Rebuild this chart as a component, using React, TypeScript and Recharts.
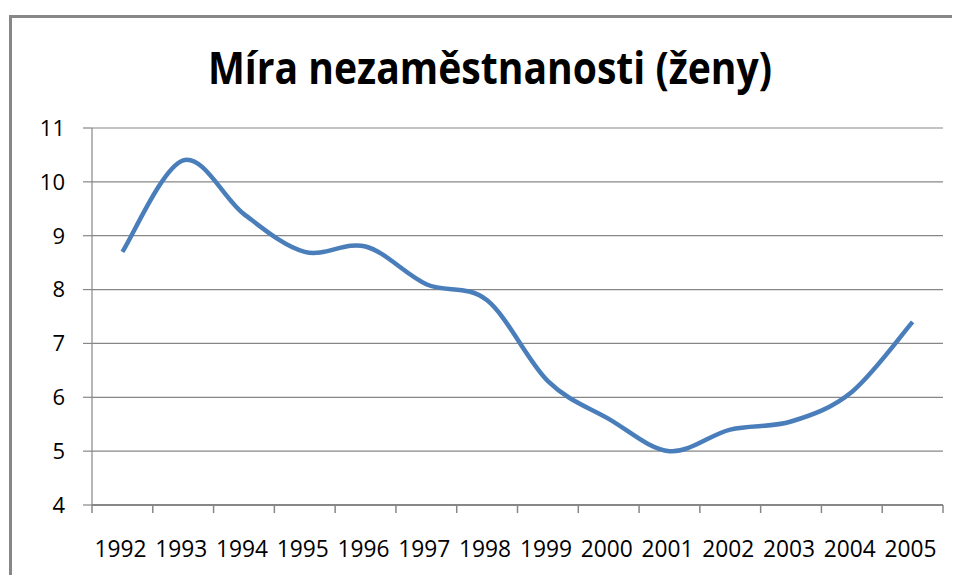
import React from 'react';
import { LineChart, Line, XAxis, YAxis, CartesianGrid } from 'recharts';

const years = ['1992', '1993', '1994', '1995', '1996', '1997', '1998', '1999', '2000', '2001', '2002', '2003', '2004', '2005'];
const rates = [8.7, 10.4, 9.4, 8.7, 8.8, 8.1, 7.8, 6.3, 5.6, 5.0, 5.4, 5.55, 6.1, 7.4];
const yTicks = [4, 5, 6, 7, 8, 9, 10, 11];

const data = years.map((year, i) => ({ x: i, year, rate: rates[i] }));

// boundaries between years get a tick mark, year centres get the label
const xTicks: number[] = [];
for (let i = 0; i <= years.length * 2; i++) xTicks.push(i / 2 - 0.5);

const font = '"Open Sans", sans-serif';
const gray = '#878787';

// Excel style smoothing (Catmull-Rom as bezier)
const excelCurve = (context: any) => {
    let pts: number[][] = [];
    return {
        areaStart() {},
        areaEnd() {},
        lineStart() { pts = []; },
        point(x: number, y: number) { pts.push([+x, +y]); },
        lineEnd() {
            if (!pts.length) return;
            context.moveTo(pts[0][0], pts[0][1]);
            for (let i = 0; i < pts.length - 1; i++) {
                const p0 = pts[i - 1] || pts[i];
                const p1 = pts[i];
                const p2 = pts[i + 1];
                const p3 = pts[i + 2] || p2;
                context.bezierCurveTo(
                    p1[0] + (p2[0] - p0[0]) / 6, p1[1] + (p2[1] - p0[1]) / 6,
                    p2[0] - (p3[0] - p1[0]) / 6, p2[1] - (p3[1] - p1[1]) / 6,
                    p2[0], p2[1]
                );
            }
        },
    };
};

const YearTick = (props: any) => {
    const { x, y, payload } = props;
    const v = payload.value;
    if (!Number.isInteger(v)) {
        return <line x1={x} x2={x} y1={y} y2={y + 8} stroke={gray} strokeWidth={1.5} />;
    }
    return (
        <text x={x - 2} y={y + 51.5} textAnchor="middle" fontFamily={font} fontSize={24} fill="#000"
            textLength={52} lengthAdjust="spacingAndGlyphs">
            {years[v]}
        </text>
    );
};

export default function App() {
    return (
        <div style={{ position: 'relative', width: 952, height: 567, overflow: 'hidden' }}>
            <div style={{ position: 'absolute', left: 1, top: 7, width: 1000, height: 640, border: `3px solid ${gray}`, background: '#fff' }}>
                <svg width={948} height={110} style={{ position: 'absolute', left: 0, top: 0 }}>
                    <text x={478} y={65.5} textAnchor="middle" fontFamily={font} fontWeight="bold" fontSize={44} fill="#000"
                        textLength={564} lengthAdjust="spacingAndGlyphs">
                        Míra nezaměstnanosti (ženy)
                    </text>
                </svg>
                <LineChart width={948} height={560} data={data} margin={{ top: 110, right: 17, bottom: 13, left: 0 }}>
                    <CartesianGrid vertical={false} stroke={gray} strokeWidth={1.2} />
                    <XAxis
                        dataKey="x"
                        type="number"
                        domain={[-0.5, 13.5]}
                        ticks={xTicks}
                        interval={0}
                        tickSize={0}
                        tickMargin={0}
                        tickLine={false}
                        axisLine={{ stroke: gray, strokeWidth: 2 }}
                        tick={<YearTick />}
                        height={60}
                    />
                    <YAxis
                        domain={[4, 11]}
                        ticks={yTicks}
                        interval={0}
                        width={80}
                        tickSize={9}
                        tickMargin={18}
                        tickLine={{ stroke: gray, strokeWidth: 1.2 }}
                        axisLine={{ stroke: gray, strokeWidth: 1.2 }}
                        tick={{ fontFamily: font, fontSize: 22, fill: '#000' }}
                    />
                    <Line
                        dataKey="rate"
                        type={excelCurve as any}
                        stroke="#4A7EBB"
                        strokeWidth={4.5}
                        dot={false}
                        activeDot={false}
                        isAnimationActive={false}
                    />
                </LineChart>
            </div>
        </div>
    );
}
